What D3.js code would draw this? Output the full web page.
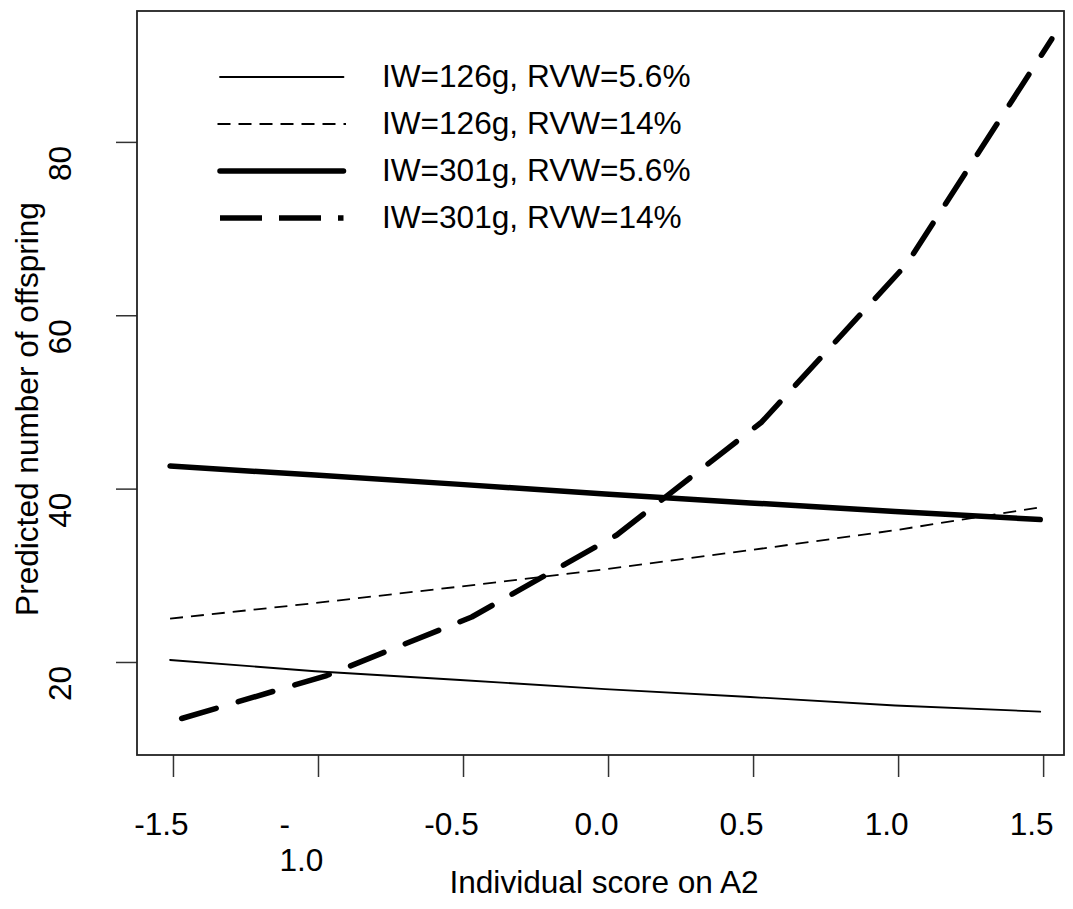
<!DOCTYPE html>
<html>
<head>
<meta charset="utf-8">
<script src="https://cdn.jsdelivr.net/npm/d3@7"></script>
<style>
  body { margin: 0; background: #fff; }
  text { font-family: "Liberation Sans", Arial, sans-serif; fill: #000; }
</style>
</head>
<body>
<div id="chart"></div>
<script>
// x positions of the predictions (the IW=301g, RVW=14% curve sits slightly to the right)
const xsLow = [-1.51, -1.01, -0.51, -0.01, 0.49, 0.99, 1.49];
const xsHigh = [-1.47, -0.97, -0.47, 0.03, 0.53, 1.03, 1.53];

// predicted number of offspring
const iw126rvw56 = [20.23, 18.93, 17.92, 16.88, 15.96, 14.98, 14.27];
const iw126rvw14 = [25.0, 26.8, 28.7, 30.7, 32.9, 35.2, 37.85];
const iw301rvw56 = [42.61, 41.56, 40.49, 39.38, 38.35, 37.37, 36.44];
const iw301rvw14 = [13.48, 18.44, 25.19, 34.65, 47.69, 65.92, 91.88];

const legendLabels = [
  "IW=126g, RVW=5.6%",
  "IW=126g, RVW=14%",
  "IW=301g, RVW=5.6%",
  "IW=301g, RVW=14%",
];

const xTicks = [-1.5, -1.0, -0.5, 0.0, 0.5, 1.0, 1.5];
const xTickLabels = ["-1.5", "-1.0", "-0.5", "0.0", "0.5", "1.0", "1.5"];
const yTicks = [20, 40, 60, 80];

const series = [
  { xs: xsLow, ys: iw126rvw56 },
  { xs: xsLow, ys: iw126rvw14 },
  { xs: xsLow, ys: iw301rvw56 },
  { xs: xsHigh, ys: iw301rvw14 },
];
const lineStyles = [
  { width: 1.8, dash: null, cap: "round" },
  { width: 1.8, dash: "13,8", cap: "butt" },
  { width: 5.5, dash: null, cap: "round" },
  { width: 5.5, dash: "36,23", cap: "round" },
];

const W = 1073, H = 909;
const box = { left: 137, right: 1064, top: 11, bottom: 755 };
const fontSize = 31.6;

const x = d3.scaleLinear().domain([-1.624, 1.572]).range([box.left, box.right]);
const y = d3.scaleLinear().domain([9.27, 95.1]).range([box.bottom, box.top]);

const svg = d3.select("#chart").append("svg")
  .attr("width", W).attr("height", H)
  .style("font-size", fontSize + "px");

// lines
const line = d3.line().x(d => x(d[0])).y(d => y(d[1]));
series.forEach((s, i) => {
  const st = lineStyles[i];
  svg.append("path")
    .datum(s.xs.map((v, j) => [v, s.ys[j]]))
    .attr("d", line)
    .attr("fill", "none")
    .attr("stroke", "#000")
    .attr("stroke-width", st.width)
    .attr("stroke-linecap", st.cap)
    .attr("stroke-linejoin", "round")
    .attr("stroke-dasharray", st.dash);
});

// x axis
const xAxis = svg.append("g")
  .attr("transform", "translate(0," + box.bottom + ")")
  .call(d3.axisBottom(x).tickValues(xTicks)
    .tickFormat((d, i) => xTickLabels[i])
    .tickSize(22).tickSizeOuter(0));
xAxis.select(".domain").remove();
xAxis.selectAll(".tick line").attr("stroke", "#333").attr("stroke-width", 1.5);
xAxis.selectAll(".tick text")
  .attr("font-size", fontSize).attr("font-family", null)
  .attr("fill", "#000")
  .attr("y", 80).attr("dy", null)
  .attr("x", -12);
// the "-1.0" label wraps onto two lines in the original
xAxis.selectAll(".tick text").filter(function () { return this.textContent === "-1.0"; })
  .each(function () {
    const t = d3.select(this);
    const full = t.text();
    t.text("").attr("text-anchor", "start");
    t.append("tspan").attr("x", -39).attr("dy", 0).text(full.slice(0, 1));
    t.append("tspan").attr("x", -39).attr("dy", 36).text(full.slice(1));
  });

// y axis
const yAxis = svg.append("g")
  .attr("transform", "translate(" + box.left + ",0)")
  .call(d3.axisLeft(y).tickValues(yTicks).tickSize(21).tickSizeOuter(0));
yAxis.select(".domain").remove();
yAxis.selectAll(".tick line").attr("stroke", "#333").attr("stroke-width", 1.5);
yAxis.selectAll(".tick text")
  .attr("font-size", fontSize).attr("font-family", null)
  .attr("fill", "#000")
  .attr("text-anchor", "middle")
  .attr("transform", "rotate(-90)")
  .attr("x", -21).attr("y", -66).attr("dy", null);

// box
svg.append("rect")
  .attr("x", box.left).attr("y", box.top)
  .attr("width", box.right - box.left).attr("height", box.bottom - box.top)
  .attr("fill", "none").attr("stroke", "#222").attr("stroke-width", 1.8);

// axis titles
svg.append("text")
  .attr("x", 604).attr("y", 893)
  .attr("text-anchor", "middle")
  .text("Individual score on A2");

svg.append("text")
  .attr("transform", "translate(38,409) rotate(-90)")
  .attr("text-anchor", "middle")
  .text("Predicted number of offspring");

// legend
const legend = svg.append("g");
legendLabels.forEach((lab, i) => {
  const st = lineStyles[i];
  const ly = 77 + i * 47;
  legend.append("line")
    .attr("x1", st.cap === "round" ? 220 : 217.5).attr("x2", st.cap === "round" ? 343.5 : 346)
    .attr("y1", ly).attr("y2", ly)
    .attr("stroke", "#000")
    .attr("stroke-width", st.width)
    .attr("stroke-linecap", st.dash && st.width > 3 ? "butt" : st.cap)
    .attr("stroke-dasharray", st.dash && st.width > 3 ? "42,17" : st.dash);
  legend.append("text")
    .attr("x", 382).attr("y", ly + 10)
    .text(lab);
});
</script>
</body>
</html>
